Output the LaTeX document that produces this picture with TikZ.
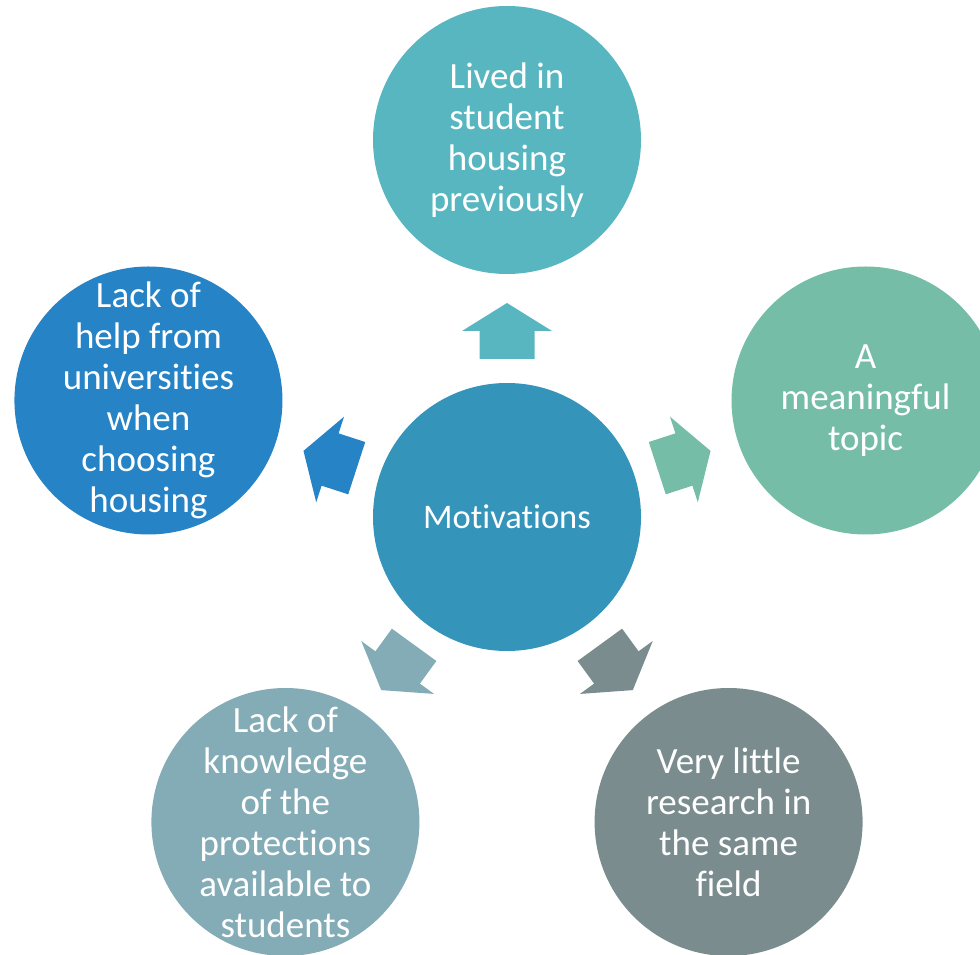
\documentclass[tikz,border=0pt]{standalone}
\usepackage{fontspec}
\setmainfont{Carlito}[Ligatures={NoCommon}]
\usetikzlibrary{calc}
\definecolor{cCenter}{HTML}{3494BA}
\definecolor{cTop}{HTML}{58B6C0}
\definecolor{cRight}{HTML}{75BDA7}
\definecolor{cBR}{HTML}{7A8C8E}
\definecolor{cBL}{HTML}{84ACB6}
\definecolor{cLeft}{HTML}{2683C6}
\tikzset{
  bubble/.style={circle, minimum size=268pt, inner sep=-80pt, text=white, align=center,
    font=\fontsize{37}{41}\selectfont},
}
\begin{document}
\begin{tikzpicture}[x=1pt,y=1pt]
\useasboundingbox (0,0) rectangle (980,954);
\clip (0,0) rectangle (980,954);
\node[bubble, fill=cCenter, font=\fontsize{34.5}{41}\selectfont] (c) at (507,437) {Motivations};
\node[bubble, fill=cTop] (t) at ($(c)+(90:377)$) {Lived in\\student\\housing\\previously};
\node[bubble, fill=cRight] (r) at ($(c)+(18:377)$) {A\\meaningful\\topic};
\node[bubble, fill=cBR] (br) at ($(c)+(-54:377)$) {Very little\\research in\\the same\\field};
\node[bubble, fill=cBL] (bl) at ($(c)+(-126:377)$) {Lack of\\knowledge\\of the\\protections\\available to\\students};
\node[bubble, fill=cLeft] (l) at ($(c)+(162:377)$) {Lack of\\help from\\universities\\when\\choosing\\housing};
\foreach \a/\col in {90/cTop, 18/cRight, -54/cBR, -126/cBL, 162/cLeft}{
  \begin{scope}[shift={(c.center)}, rotate=\a]
    \fill[\col] (158,-27.5) -- (186,-27.5) -- (186,-45) -- (214,0) -- (186,45) -- (186,27.5) -- (158,27.5) -- cycle;
  \end{scope}
}
\end{tikzpicture}
\end{document}
